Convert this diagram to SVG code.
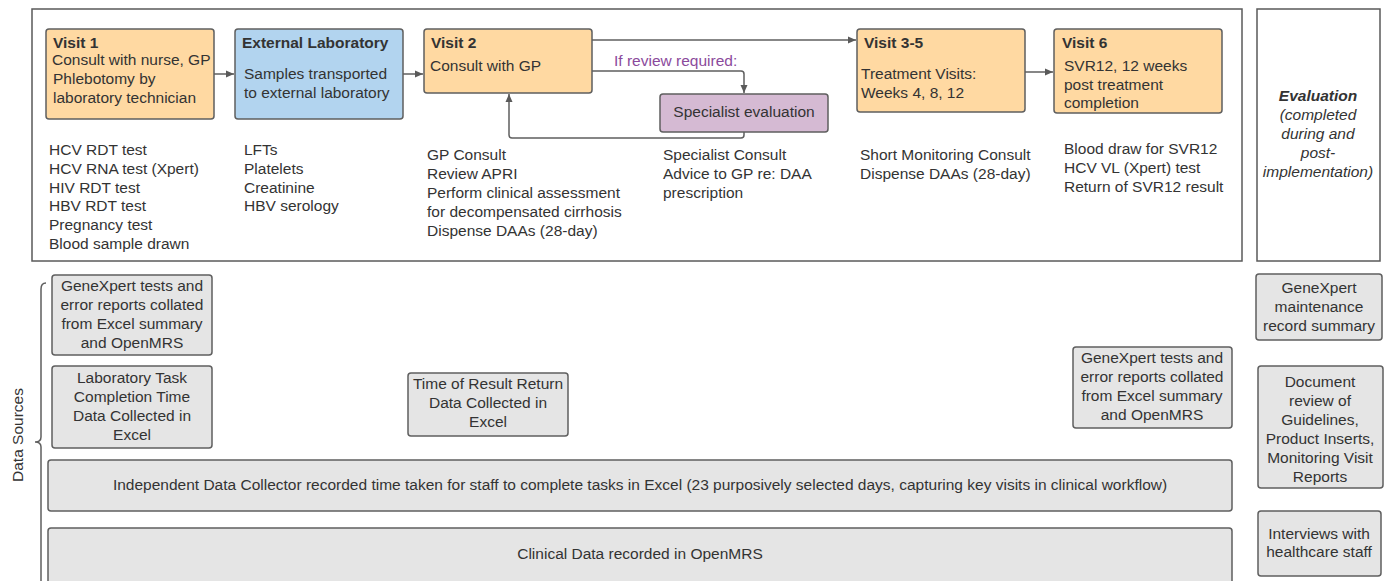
<svg xmlns="http://www.w3.org/2000/svg" width="1390" height="581" viewBox="0 0 1390 581">
<style>
text{font-family:"Liberation Sans",Arial,sans-serif;font-size:15.5px;fill:#333}
.b{font-weight:bold}
.c{text-anchor:middle}
.frame{fill:none;stroke:#5a5a5a;stroke-width:1.5}
.box{stroke:#5f5f5f;stroke-width:1.5}
.visit{fill:#FFD9A2}
.lab{fill:#B2D4EF}
.spec{fill:#D5BAD3}
.ds{fill:#E5E5E5}
.con{fill:none;stroke:#5f5f5f;stroke-width:1.5}
.pur{fill:#8B4A9C}
</style>
<defs>
<marker id="ah" markerWidth="10" markerHeight="8" refX="8" refY="4" orient="auto" markerUnits="userSpaceOnUse">
<path d="M0,0.5 L8,4 L0,7.5 Z" fill="#5a5a5a"/>
</marker>
</defs>
<rect class="frame" x="32" y="9" width="1210" height="252"/>
<g id="evaluation">
<rect class="frame" x="1257" y="9" width="123" height="252"/>
<text class="c b" x="1318" y="101" font-style="italic">Evaluation</text>
<text class="c" x="1318" y="120" font-style="italic">(completed</text>
<text class="c" x="1318" y="139" font-style="italic">during and</text>
<text class="c" x="1318" y="158" font-style="italic">post-</text>
<text class="c" x="1318" y="177" font-style="italic">implementation)</text>
</g>
<g id="connectors">
<path class="con" d="M214,74 L234,74" marker-end="url(#ah)"/>
<path class="con" d="M403,74 L423,74" marker-end="url(#ah)"/>
<path class="con" d="M592,40 L856,40" marker-end="url(#ah)"/>
<path class="con" d="M592,71 L741,71 Q744,71 744,74 L744,93" marker-end="url(#ah)"/>
<path class="con" d="M744,132 L744,135 Q744,138 741,138 L512,138 Q509,138 509,135 L509,94" marker-end="url(#ah)"/>
<path class="con" d="M1025,72 L1053,72" marker-end="url(#ah)"/>
<text class="pur" x="614" y="66">If review required:</text>
</g>
<g id="visit1">
<rect class="box visit" x="46" y="29" width="168" height="90" rx="3"/>
<text class="b" x="53" y="48">Visit 1</text>
<text x="52" y="65">Consult with nurse, GP</text>
<text x="53" y="84">Phlebotomy by</text>
<text x="53" y="103">laboratory technician</text>
<text x="49" y="155">HCV RDT test</text>
<text x="49" y="174">HCV RNA test (Xpert)</text>
<text x="49" y="193">HIV RDT test</text>
<text x="49" y="211">HBV RDT test</text>
<text x="49" y="230">Pregnancy test</text>
<text x="49" y="249">Blood sample drawn</text>
</g>
<g id="external-lab">
<rect class="box lab" x="235" y="29" width="168" height="90" rx="3"/>
<text class="b" x="242" y="48">External Laboratory</text>
<text x="244" y="79">Samples transported</text>
<text x="244" y="98">to external laboratory</text>
<text x="244" y="155">LFTs</text>
<text x="244" y="174">Platelets</text>
<text x="244" y="193">Creatinine</text>
<text x="244" y="211">HBV serology</text>
</g>
<g id="visit2">
<rect class="box visit" x="424" y="29" width="168" height="64" rx="3"/>
<text class="b" x="431" y="48">Visit 2</text>
<text x="430" y="71">Consult with GP</text>
<text x="427" y="160">GP Consult</text>
<text x="427" y="179">Review APRI</text>
<text x="427" y="198">Perform clinical assessment</text>
<text x="427" y="217">for decompensated cirrhosis</text>
<text x="427" y="236">Dispense DAAs (28-day)</text>
</g>
<g id="specialist">
<rect class="box spec" x="660" y="94" width="168" height="38" rx="3"/>
<text class="c" x="744" y="117">Specialist evaluation</text>
<text x="663" y="160">Specialist Consult</text>
<text x="663" y="179">Advice to GP re: DAA</text>
<text x="663" y="198">prescription</text>
</g>
<g id="visit3-5">
<rect class="box visit" x="857" y="29" width="168" height="83" rx="3"/>
<text class="b" x="864" y="48">Visit 3-5</text>
<text x="861" y="79">Treatment Visits:</text>
<text x="861" y="98">Weeks 4, 8, 12</text>
<text x="860" y="160">Short Monitoring Consult</text>
<text x="860" y="179">Dispense DAAs (28-day)</text>
</g>
<g id="visit6">
<rect class="box visit" x="1054" y="29" width="168" height="84" rx="3"/>
<text class="b" x="1062" y="48">Visit 6</text>
<text x="1064" y="71">SVR12, 12 weeks</text>
<text x="1064" y="90">post treatment</text>
<text x="1064" y="108">completion</text>
<text x="1064" y="154">Blood draw for SVR12</text>
<text x="1064" y="173">HCV VL (Xpert) test</text>
<text x="1064" y="192">Return of SVR12 result</text>
</g>
<g id="data-sources-label">
<path class="con" d="M46,283 Q41,283 41,289 L41,437 Q41,442 35,442 Q41,442 41,447 L41,584"/>
<text class="c" transform="translate(23,435) rotate(-90)">Data Sources</text>
</g>
<g id="ds-genexpert-1">
<rect class="box ds" x="52" y="275" width="160" height="80" rx="3"/>
<text class="c" x="132" y="291">GeneXpert tests and</text>
<text class="c" x="132" y="310">error reports collated</text>
<text class="c" x="132" y="329">from Excel summary</text>
<text class="c" x="132" y="348">and OpenMRS</text>
</g>
<g id="ds-lab-task">
<rect class="box ds" x="52" y="366" width="160" height="82" rx="3"/>
<text class="c" x="132" y="383">Laboratory Task</text>
<text class="c" x="132" y="402">Completion Time</text>
<text class="c" x="132" y="421">Data Collected in</text>
<text class="c" x="132" y="440">Excel</text>
</g>
<g id="ds-result-return">
<rect class="box ds" x="408" y="373" width="160" height="63" rx="3"/>
<text class="c" x="488" y="389">Time of Result Return</text>
<text class="c" x="488" y="408">Data Collected in</text>
<text class="c" x="488" y="427">Excel</text>
</g>
<g id="ds-genexpert-2">
<rect class="box ds" x="1073" y="347" width="159" height="81" rx="3"/>
<text class="c" x="1152" y="363">GeneXpert tests and</text>
<text class="c" x="1152" y="382">error reports collated</text>
<text class="c" x="1152" y="401">from Excel summary</text>
<text class="c" x="1152" y="420">and OpenMRS</text>
</g>
<g id="ds-independent">
<rect class="box ds" x="48" y="460" width="1184" height="51" rx="3"/>
<text class="c" x="640" y="490">Independent Data Collector recorded time taken for staff to complete tasks in Excel (23 purposively selected days, capturing key visits in clinical workflow)</text>
</g>
<g id="ds-clinical">
<rect class="box ds" x="48" y="528" width="1184" height="60" rx="3"/>
<text class="c" x="640" y="559">Clinical Data recorded in OpenMRS</text>
</g>
<g id="ev-maintenance">
<rect class="box ds" x="1256" y="274" width="126" height="66" rx="3"/>
<text class="c" x="1319" y="293">GeneXpert</text>
<text class="c" x="1319" y="312">maintenance</text>
<text class="c" x="1319" y="331">record summary</text>
</g>
<g id="ev-document">
<rect class="box ds" x="1258" y="366" width="125" height="122" rx="3"/>
<text class="c" x="1320" y="387">Document</text>
<text class="c" x="1320" y="406">review of</text>
<text class="c" x="1320" y="425">Guidelines,</text>
<text class="c" x="1320" y="444">Product Inserts,</text>
<text class="c" x="1320" y="463">Monitoring Visit</text>
<text class="c" x="1320" y="482">Reports</text>
</g>
<g id="ev-interviews">
<rect class="box ds" x="1258" y="511" width="123" height="65" rx="3"/>
<text class="c" x="1319" y="539">Interviews with</text>
<text class="c" x="1319" y="557">healthcare staff</text>
</g>
</svg>
